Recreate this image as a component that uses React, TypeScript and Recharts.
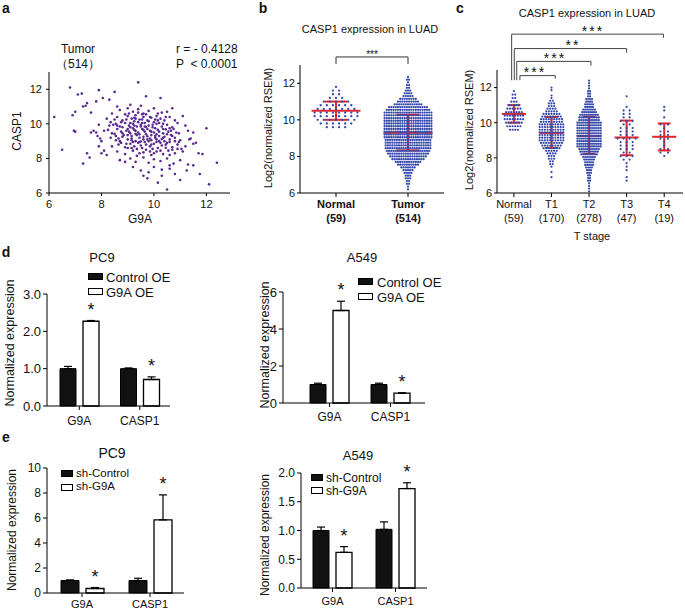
import React from "react";
import {
    ScatterChart,
    Scatter,
    XAxis,
    YAxis,
    ReferenceLine,
    BarChart,
    Bar,
    ErrorBar,
    LabelList,
} from "recharts";

const FONT = '"Liberation Sans", Arial, Helvetica, sans-serif';
const PURPLE = "#5b2a90";
const BLUE = "#3447aa";
const RED = "#e0262b";

// ---- panel a: G9A vs CASP1 in tumours ----
const corrPoints: [number, number][] = [
    [6.2, 10.4], [6.5, 8.5], [6.8, 12.1], [6.9, 10.5], [6.95, 9.6], [7.0, 9.55], [7.0, 10.7], [7.1, 11.7],
    [7.25, 11.75], [7.3, 11.0], [7.4, 11.05], [7.45, 11.2], [7.3, 7.7], [7.45, 8.3], [7.55, 8.05], [7.6, 10.65],
    [7.8, 11.3], [7.9, 11.95], [8.05, 11.5], [7.7, 9.6], [7.8, 9.5], [7.85, 9.3], [8.0, 9.0], [7.9, 8.7],
    [8.1, 8.45], [8.2, 8.2], [8.3, 11.4], [8.5, 11.85], [8.6, 11.0], [9.4, 12.4], [9.7, 11.6], [10.25, 11.5],
    [10.5, 10.7], [11.1, 10.45], [11.2, 9.9], [12.0, 9.75], [11.5, 9.5], [11.7, 8.3], [11.85, 8.25], [12.4, 7.75],
    [12.1, 6.5], [11.75, 7.1], [11.5, 7.6], [11.0, 6.75], [10.5, 6.2], [10.15, 6.6], [9.75, 6.85], [10.3, 7.0],
    [8.7, 10.8], [9.0, 10.9], [9.2, 10.7], [9.4, 10.85], [9.6, 10.6], [9.8, 10.75], [10.0, 10.9], [8.4, 10.6],
    [9.1, 11.1], [9.5, 11.05], [10.3, 10.65], [10.7, 10.9], [8.9, 10.55],
    [8.2, 10.3], [8.6, 10.4], [8.8, 10.2], [9.0, 10.45], [9.15, 10.3], [9.3, 10.5], [9.45, 10.25], [9.6, 10.4],
    [9.75, 10.2], [9.9, 10.35], [10.1, 10.45], [10.25, 10.3], [10.4, 10.2], [10.6, 10.4], [8.5, 10.25], [9.25, 10.15],
    [9.55, 10.55], [10.0, 10.1],
    [7.9, 9.95], [8.3, 9.9], [8.55, 10.0], [8.7, 9.85], [8.9, 10.05], [9.05, 9.9], [9.2, 10.0], [9.35, 9.85],
    [9.5, 9.95], [9.65, 10.05], [9.8, 9.9], [9.95, 9.8], [10.1, 10.0], [10.3, 9.85], [10.5, 9.95], [10.7, 9.8],
    [10.9, 10.05], [9.1, 9.8], [9.4, 10.1], [9.7, 9.82], [10.2, 10.05], [8.8, 9.8], [10.6, 9.75],
    [7.6, 9.5], [8.1, 9.6], [8.4, 9.45], [8.6, 9.7], [8.75, 9.55], [8.95, 9.6], [9.1, 9.45], [9.25, 9.65],
    [9.4, 9.5], [9.55, 9.7], [9.7, 9.4], [9.85, 9.6], [10.0, 9.5], [10.15, 9.65], [10.35, 9.45], [10.55, 9.55],
    [10.75, 9.7], [10.95, 9.45], [11.3, 9.6], [9.0, 9.7], [9.3, 9.42], [9.65, 9.55], [10.1, 9.4], [10.45, 9.68],
    [8.5, 9.42],
    [7.95, 9.15], [8.35, 9.2], [8.55, 9.05], [8.8, 9.25], [9.0, 9.1], [9.15, 9.3], [9.3, 9.0], [9.45, 9.2],
    [9.6, 9.1], [9.75, 9.28], [9.9, 9.05], [10.05, 9.2], [10.2, 9.0], [10.4, 9.25], [10.6, 9.1], [10.8, 9.2],
    [11.0, 9.05], [11.4, 9.15], [9.5, 8.98], [9.85, 9.15], [10.3, 9.12], [8.7, 9.0], [10.7, 9.3],
    [8.4, 8.7], [8.65, 8.8], [8.9, 8.65], [9.1, 8.85], [9.25, 8.7], [9.4, 8.9], [9.55, 8.6], [9.7, 8.8],
    [9.85, 8.7], [10.0, 8.85], [10.15, 8.6], [10.3, 8.75], [10.5, 8.9], [10.7, 8.65], [10.9, 8.8], [11.2, 8.7],
    [11.5, 8.85], [9.95, 8.55], [10.45, 8.62], [9.0, 8.6], [10.6, 8.95],
    [8.0, 8.3], [8.6, 8.4], [8.9, 8.25], [9.2, 8.45], [9.45, 8.3], [9.7, 8.5], [9.9, 8.2], [10.1, 8.4],
    [10.35, 8.25], [10.55, 8.45], [10.8, 8.3], [11.1, 8.4], [9.35, 8.15], [10.0, 8.3],
    [8.7, 7.9], [9.1, 8.0], [9.3, 7.8], [9.6, 8.05], [9.8, 7.75], [10.0, 7.95], [10.25, 7.85], [10.5, 8.0],
    [10.75, 7.7], [11.0, 7.9], [11.3, 7.65], [8.9, 7.8], [10.6, 7.6],
    [9.2, 7.5], [9.5, 7.3], [9.8, 7.2], [10.0, 7.5], [10.3, 7.35], [10.8, 7.1], [11.25, 7.3], [9.6, 7.0], [10.6, 7.4],
    [9.05, 9.55], [9.2, 9.75], [9.35, 9.35], [9.5, 9.85], [9.6, 9.25], [9.75, 9.7], [9.9, 9.35], [10.05, 9.75],
    [10.2, 9.3], [10.35, 9.7], [9.15, 9.05], [9.45, 8.95], [9.8, 9.0], [10.1, 8.95], [10.4, 9.0], [9.25, 10.35],
    [9.55, 10.25], [9.8, 10.15], [10.05, 10.25], [9.4, 10.65], [8.85, 9.35], [8.65, 9.15], [8.95, 8.85], [10.65, 9.35],
    [10.85, 9.5], [10.95, 8.95], [11.05, 8.55], [10.25, 8.45], [9.6, 8.35], [9.15, 8.6], [8.45, 9.95], [8.25, 9.65],
    [8.75, 10.1], [9.05, 10.6], [9.7, 10.55], [10.15, 10.6], [10.45, 10.4], [10.8, 10.2], [11.35, 9.1], [11.6, 8.9],
    [8.35, 10.1], [8.55, 9.3], [8.8, 9.45], [9.0, 9.35], [9.15, 9.15], [9.3, 9.6], [9.45, 9.4], [9.6, 9.65],
    [9.75, 9.1], [9.9, 9.55], [10.05, 9.3], [10.2, 9.55], [10.35, 9.2], [10.5, 9.4], [10.65, 9.6], [10.8, 9.0],
    [9.2, 8.95], [9.5, 8.75], [9.65, 8.95], [9.9, 8.8], [10.1, 9.1], [10.25, 8.9], [10.45, 8.8], [10.7, 8.5],
    [8.95, 10.25], [9.3, 10.3], [9.55, 10.05], [9.85, 10.4], [10.15, 10.2], [10.35, 10.0], [9.1, 10.05], [8.6, 9.9],
    [8.75, 8.9], [9.35, 8.55], [9.85, 8.4], [10.6, 8.2], [10.9, 8.55], [9.95, 9.95], [9.25, 9.9], [9.65, 9.85],
];

// ---- panels b / c: beeswarm rows, count of samples per expression row ----
const normalCounts = [4, 6, 7, 8, 8, 7, 6, 5, 3, 2, 2, 1];
const tumorCounts = [
    1, 1, 2, 2, 3, 3, 4, 5, 7, 10, 12, 15, 17, 19, 20, 21, 21, 21, 21, 22, 22,
    22, 22, 22, 22, 22, 22, 22, 22, 20, 18, 13, 10, 8, 5, 4, 3, 2, 2, 1, 2, 1,
];
const t1Counts = [
    1, 0, 1, 0, 1, 2, 2, 3, 3, 4, 5, 7, 8, 9, 10, 10, 10, 10,
    10, 10, 10, 9, 9, 8, 7, 5, 4, 3, 3, 2, 1, 1, 0, 1, 1,
];
const t2Counts = [
    1, 1, 1, 1, 2, 2, 2, 3, 3, 4, 5, 5, 6, 7, 9, 10, 11, 13, 13, 13, 13, 13,
    13, 13, 13, 13, 13, 11, 11, 10, 8, 7, 5, 5, 4, 4, 2, 2, 2, 1, 1, 1, 1,
];
const t3Counts = [1, 1, 0, 1, 1, 1, 2, 3, 2, 3, 3, 3, 4, 3, 3, 3, 2, 3, 2, 2, 2, 1, 0, 0, 1];
const t4Counts = [1, 2, 2, 1, 1, 2, 2, 2, 1, 2, 0, 1, 0, 1, 1];

const luadNames = ["Normal", "Tumor"];
const luadN = [59, 514];
const luadStart = [9.6, 6.2];
const luadStep = [0.2, 0.15];
const luadCounts = [normalCounts, tumorCounts];
const luadMean = [10.5, 9.3];
const luadLo = [10.0, 8.33];
const luadHi = [11.0, 10.28];

const stageNames = ["Normal", "T1", "T2", "T3", "T4"];
const stageN = [59, 170, 278, 47, 19];
const stageStart = [9.6, 6.9, 6.1, 6.7, 8.1];
const stageStep = [0.2, 0.15, 0.15, 0.2, 0.2];
const stageCounts = [normalCounts, t1Counts, t2Counts, t3Counts, t4Counts];
const stageMean = [10.5, 9.42, 9.25, 9.16, 9.2];
const stageLo = [10.0, 8.57, 8.22, 8.15, 8.42];
const stageHi = [11.0, 10.33, 10.33, 10.12, 9.96];
// significance brackets Normal -> T1..T4
const bracketTo = [1.1, 2.05, 3.0, 3.98];
const bracketFrom = [0.16, 0.075, 0.01, -0.06];
const bracketTop = [12.68, 13.49, 14.22, 15.04];
const bracketDrop = [12.51, 13.24, 13.98, 14.83];
const bracketBase = 12.42;

// ---- panels d / e: qPCR bars ----
const genes = ["G9A", "CASP1"];
const pc9OeCtrl = [1.0, 1.0];
const pc9OeCtrlErr = [0.06, 0.02];
const pc9Oe = [2.27, 0.71];
const pc9OeErr = [0.02, 0.07];
const a549OeCtrl = [1.0, 1.0];
const a549OeCtrlErr = [0.07, 0.07];
const a549Oe = [5.0, 0.53];
const a549OeErr = [0.5, 0.02];
const pc9ShCtrl = [1.0, 1.0];
const pc9ShCtrlErr = [0.05, 0.18];
const pc9Sh = [0.36, 5.85];
const pc9ShErr = [0.08, 2.0];
const a549ShCtrl = [1.0, 1.02];
const a549ShCtrlErr = [0.06, 0.13];
const a549Sh = [0.62, 1.73];
const a549ShErr = [0.1, 0.1];

function swarm(starts: number[], steps: number[], counts: number[][], dx: number[]) {
    const pts: { x: number; y: number }[] = [];
    counts.forEach((rows, g) => {
        rows.forEach((n, r) => {
            const y = +(starts[g] + r * steps[g]).toFixed(3);
            for (let j = 0; j < n; j++) pts.push({ x: g + (j - (n - 1) / 2) * dx[g], y });
        });
    });
    return pts;
}

// plot box in page pixels -> chart placement
function place(x0: number, y0: number, x1: number, y1: number, yw: number, xh: number, top = 4, right = 4) {
    return {
        style: { position: "absolute" as const, left: x0 - yw, top: y0 - top },
        width: yw + (x1 - x0) + right,
        height: top + (y1 - y0) + xh,
        margin: { top, right, left: 0, bottom: 0 },
    };
}

function Txt({ x, y, size = 11, bold = false, rot = false, anchor = "middle", spacing = 0, children }: any) {
    const tx = anchor === "middle" ? "-50%" : anchor === "end" ? "-100%" : "0";
    return (
        <div
            style={{
                position: "absolute",
                left: x,
                top: y,
                transform: `translate(${tx}, -50%)${rot ? " rotate(-90deg)" : ""}`,
                fontSize: size,
                fontWeight: bold ? 700 : 400,
                lineHeight: 1,
                whiteSpace: "nowrap",
                letterSpacing: spacing,
                color: "#111",
            }}
        >
            {children}
        </div>
    );
}

function Key({ x, y, tx, label, filled, w = 15, h = 7, size = 13 }: any) {
    return (
        <>
            <div
                style={{
                    position: "absolute",
                    left: x,
                    top: y - h / 2,
                    width: w,
                    height: h,
                    boxSizing: "border-box",
                    background: filled ? "#111" : "#fff",
                    border: "1px solid #000",
                }}
            />
            <Txt x={tx} y={y} size={size} anchor="start">{label}</Txt>
        </>
    );
}

const axisStroke = { stroke: "#000", strokeWidth: 1 };

function GroupTick(props: any) {
    const { x, y, payload, names, counts, bold } = props;
    const i = Math.round(payload.value);
    return (
        <text x={x} y={y} textAnchor="middle" fontSize={11} fontWeight={bold ? 700 : 400} fill="#111" fontFamily={FONT}>
            <tspan x={x} dy={9}>{names[i]}</tspan>
            <tspan x={x} dy={14}>({counts[i]})</tspan>
        </text>
    );
}

function statSegments(g: number, mean: number, lo: number, hi: number, mh: number, ch: number) {
    return [
        [{ x: g - mh, y: mean }, { x: g + mh, y: mean }],
        [{ x: g, y: lo }, { x: g, y: hi }],
        [{ x: g - ch, y: lo }, { x: g + ch, y: lo }],
        [{ x: g - ch, y: hi }, { x: g + ch, y: hi }],
    ];
}

const dot = (color: string, r: number) => (p: any) => <circle cx={p.cx} cy={p.cy} r={r} fill={color} />;

function ExprBars({ box, ctrl, ctrlErr, trt, trtErr, domain, ticks, dec, barSize, pad, tickFont, xFont, xMargin }: any) {
    const data = genes.map((g, i) => ({
        gene: g,
        ctrl: ctrl[i],
        ctrlErr: [0, ctrlErr[i]],
        trt: trt[i],
        trtErr: [0, trtErr[i]],
        up: trtErr[i],
    }));
    const star = (p: any) => {
        const vb = p.viewBox && p.viewBox.width !== undefined ? p.viewBox : p;
        const { x, y, width, height } = vb;
        const val = trt[p.index];
        const top = y - (p.value * height) / val;
        return (
            <text x={x + width / 2} y={top - 5} textAnchor="middle" fontSize={18} fill="#111" fontFamily={FONT}>
                *
            </text>
        );
    };
    return (
        <div style={box.style}>
            <BarChart width={box.width} height={box.height} margin={box.margin} data={data} barGap={7} barSize={barSize}>
                <XAxis
                    dataKey="gene"
                    padding={pad}
                    height={box.height - box.margin.top - (box.plotH ?? 0)}
                    axisLine={axisStroke}
                    tickLine={axisStroke}
                    tickSize={4}
                    tickMargin={xMargin}
                    interval={0}
                    tick={{ fill: "#111", fontSize: xFont, fontFamily: FONT }}
                />
                <YAxis
                    type="number"
                    domain={domain}
                    ticks={ticks}
                    width={box.yw}
                    axisLine={axisStroke}
                    tickLine={axisStroke}
                    tickSize={4}
                    tickMargin={2}
                    tickFormatter={(v: number) => v.toFixed(dec)}
                    tick={{ fill: "#111", fontSize: tickFont, fontFamily: FONT }}
                />
                <Bar dataKey="ctrl" fill="#111" stroke="#000" strokeWidth={1} isAnimationActive={false}>
                    <ErrorBar dataKey="ctrlErr" width={4} stroke="#000" strokeWidth={1.2} direction="y" />
                </Bar>
                <Bar dataKey="trt" fill="#fff" stroke="#000" strokeWidth={1.3} isAnimationActive={false}>
                    <ErrorBar dataKey="trtErr" width={4} stroke="#000" strokeWidth={1.2} direction="y" />
                    <LabelList dataKey="up" content={star} />
                </Bar>
            </BarChart>
        </div>
    );
}

function barBox(x0: number, y0: number, x1: number, y1: number, yw: number, xh: number, top: number) {
    const b: any = place(x0, y0, x1, y1, yw, xh, top, 4);
    b.yw = yw;
    b.plotH = y1 - y0;
    return b;
}

export default function App() {
    const aBox = place(49, 72, 230, 193, 30, 24, 4, 6);
    const bBox = place(300, 65, 444, 193, 28, 36, 22, 4);
    const cBox = place(497, 70, 683, 193, 28, 36, 46, 2);

    const scatterData = corrPoints.map(([x, y]) => ({ x, y }));
    const luadPts = swarm(luadStart, luadStep, luadCounts, [0.085, 0.031]);
    const stagePts = swarm(stageStart, stageStep, stageCounts, [0.07, 0.07, 0.052, 0.16, 0.2]);

    const tickStyle = { fill: "#111", fontSize: 11, fontFamily: FONT };

    return (
        <div
            style={{
                position: "absolute",
                left: 0,
                top: 0,
                width: 685,
                height: 611,
                background: "#fff",
                fontFamily: FONT,
                overflow: "hidden",
            }}
        >
            {/* a */}
            <div style={aBox.style}>
                <ScatterChart width={aBox.width} height={aBox.height} margin={aBox.margin}>
                    <XAxis
                        type="number"
                        dataKey="x"
                        domain={[6, 12.9]}
                        ticks={[6, 8, 10, 12]}
                        allowDataOverflow
                        height={24}
                        axisLine={axisStroke}
                        tickLine={axisStroke}
                        tickSize={3}
                        tickMargin={4}
                        tick={tickStyle}
                    />
                    <YAxis
                        type="number"
                        dataKey="y"
                        domain={[6, 13]}
                        ticks={[6, 8, 10, 12]}
                        allowDataOverflow
                        width={30}
                        axisLine={axisStroke}
                        tickLine={axisStroke}
                        tickSize={3}
                        tickMargin={4}
                        tick={tickStyle}
                    />
                    <Scatter data={scatterData} shape={dot(PURPLE, 1.3)} isAnimationActive={false} />
                </ScatterChart>
            </div>

            {/* b */}
            <div style={bBox.style}>
                <ScatterChart width={bBox.width} height={bBox.height} margin={bBox.margin}>
                    <XAxis
                        type="number"
                        dataKey="x"
                        domain={[-0.5, 1.5]}
                        ticks={[0, 1]}
                        allowDataOverflow
                        height={36}
                        axisLine={axisStroke}
                        tickLine={axisStroke}
                        tickSize={4}
                        tick={<GroupTick names={luadNames} counts={luadN} bold />}
                    />
                    <YAxis
                        type="number"
                        dataKey="y"
                        domain={[6, 13]}
                        ticks={[6, 8, 10, 12]}
                        allowDataOverflow
                        width={28}
                        axisLine={axisStroke}
                        tickLine={axisStroke}
                        tickSize={3}
                        tickMargin={2}
                        tick={tickStyle}
                    />
                    <Scatter data={luadPts} shape={dot(BLUE, 1.15)} isAnimationActive={false} />
                    {luadNames.map((_, g) =>
                        statSegments(g, luadMean[g], luadLo[g], luadHi[g], 0.34, 0.16).map((s, k) => (
                            <ReferenceLine key={`b${g}${k}`} segment={s} stroke={RED} strokeWidth={2} ifOverflow="visible" />
                        ))
                    )}
                    <ReferenceLine segment={[{ x: 0, y: 13.05 }, { x: 0, y: 13.44 }]} stroke="#333" ifOverflow="visible" />
                    <ReferenceLine segment={[{ x: 0, y: 13.44 }, { x: 1, y: 13.44 }]} stroke="#333" ifOverflow="visible" />
                    <ReferenceLine segment={[{ x: 1, y: 13.44 }, { x: 1, y: 13.05 }]} stroke="#333" ifOverflow="visible" />
                </ScatterChart>
            </div>

            {/* c */}
            <div style={cBox.style}>
                <ScatterChart width={cBox.width} height={cBox.height} margin={cBox.margin}>
                    <XAxis
                        type="number"
                        dataKey="x"
                        domain={[-0.45, 4.5]}
                        ticks={[0, 1, 2, 3, 4]}
                        allowDataOverflow
                        height={36}
                        axisLine={axisStroke}
                        tickLine={axisStroke}
                        tickSize={4}
                        tick={<GroupTick names={stageNames} counts={stageN} />}
                    />
                    <YAxis
                        type="number"
                        dataKey="y"
                        domain={[6, 13]}
                        ticks={[6, 8, 10, 12]}
                        allowDataOverflow
                        width={28}
                        axisLine={axisStroke}
                        tickLine={axisStroke}
                        tickSize={3}
                        tickMargin={2}
                        tick={tickStyle}
                    />
                    <Scatter data={stagePts} shape={dot(BLUE, 1.1)} isAnimationActive={false} />
                    {stageNames.map((_, g) =>
                        statSegments(g, stageMean[g], stageLo[g], stageHi[g], 0.32, 0.17).map((s, k) => (
                            <ReferenceLine key={`c${g}${k}`} segment={s} stroke={RED} strokeWidth={2} ifOverflow="visible" />
                        ))
                    )}
                    {bracketTo.map((to, i) => (
                        <React.Fragment key={`br${i}`}>
                            <ReferenceLine segment={[{ x: bracketFrom[i], y: bracketBase }, { x: bracketFrom[i], y: bracketTop[i] }]} stroke="#444" ifOverflow="visible" />
                            <ReferenceLine segment={[{ x: bracketFrom[i], y: bracketTop[i] }, { x: to, y: bracketTop[i] }]} stroke="#444" ifOverflow="visible" />
                            <ReferenceLine segment={[{ x: to, y: bracketTop[i] }, { x: to, y: bracketDrop[i] }]} stroke="#444" ifOverflow="visible" />
                        </React.Fragment>
                    ))}
                </ScatterChart>
            </div>

            {/* d */}
            <ExprBars
                box={barBox(47, 294, 170, 406, 32, 24, 10)}
                ctrl={pc9OeCtrl} ctrlErr={pc9OeCtrlErr} trt={pc9Oe} trtErr={pc9OeErr}
                domain={[0, 3]} ticks={[0, 0.5, 1, 1.5, 2, 2.5, 3]} dec={1}
                barSize={16} pad={{ left: 2, right: 0 }} tickFont={13} xFont={12} xMargin={6}
            />
            <ExprBars
                box={barBox(283, 292, 425, 403, 30, 24, 14)}
                ctrl={a549OeCtrl} ctrlErr={a549OeCtrlErr} trt={a549Oe} trtErr={a549OeErr}
                domain={[0, 6]} ticks={[0, 1, 2, 3, 4, 5, 6]} dec={0}
                barSize={16} pad={{ left: 16, right: 4 }} tickFont={13} xFont={12} xMargin={5}
            />

            {/* e */}
            <ExprBars
                box={barBox(47, 468, 184, 593, 30, 18, 8)}
                ctrl={pc9ShCtrl} ctrlErr={pc9ShCtrlErr} trt={pc9Sh} trtErr={pc9ShErr}
                domain={[0, 10]} ticks={[0, 2, 4, 6, 8, 10]} dec={0}
                barSize={18} pad={{ left: 1, right: 0 }} tickFont={12} xFont={11} xMargin={3}
            />
            <ExprBars
                box={barBox(301, 473, 427, 588, 30, 22, 14)}
                ctrl={a549ShCtrl} ctrlErr={a549ShCtrlErr} trt={a549Sh} trtErr={a549ShErr}
                domain={[0, 2]} ticks={[0, 0.5, 1, 1.5, 2]} dec={1}
                barSize={16} pad={{ left: 0, right: 0 }} tickFont={12} xFont={11} xMargin={5}
            />

            {/* panel letters */}
            <Txt x={6} y={8} size={14} bold>a</Txt>
            <Txt x={263} y={8} size={14} bold>b</Txt>
            <Txt x={460} y={8} size={14} bold>c</Txt>
            <Txt x={6} y={252} size={14} bold>d</Txt>
            <Txt x={6} y={437} size={14} bold>e</Txt>

            {/* a texts */}
            <Txt x={78} y={49} size={12}>Tumor</Txt>
            <Txt x={78} y={64} size={12}>（514）</Txt>
            <Txt x={176} y={49} size={12} anchor="start">r = - 0.4128</Txt>
            <Txt x={176} y={64} size={12} anchor="start">P &nbsp;&lt; 0.0001</Txt>
            <Txt x={17} y={131} size={12} rot>CASP1</Txt>
            <Txt x={140} y={219} size={12}>G9A</Txt>

            {/* b texts */}
            <Txt x={370} y={29} size={11}>CASP1 expression in LUAD</Txt>
            <Txt x={268} y={128} size={11} rot>Log2(normalized RSEM)</Txt>
            <Txt x={372} y={55} size={10}>***</Txt>

            {/* c texts */}
            <Txt x={587} y={13} size={11}>CASP1 expression in LUAD</Txt>
            <Txt x={469} y={130} size={11} rot>Log2(normalized RSEM)</Txt>
            <Txt x={592} y={236} size={11}>T stage</Txt>
            <Txt x={593} y={31} size={14} spacing={2}>***</Txt>
            <Txt x={573} y={45} size={14} spacing={2}>**</Txt>
            <Txt x={555} y={58} size={14} spacing={2}>***</Txt>
            <Txt x={535} y={72} size={14} spacing={2}>***</Txt>

            {/* d texts */}
            <Txt x={102} y={257} size={13}>PC9</Txt>
            <Txt x={362} y={257} size={13}>A549</Txt>
            <Txt x={10} y={343} size={12.5} rot>Normalized expression</Txt>
            <Txt x={265} y={345} size={12.5} rot>Normalized expression</Txt>
            <Key x={88} y={276.5} tx={106} label="Control OE" filled />
            <Key x={88} y={291.5} tx={106} label="G9A OE" />
            <Key x={358} y={281.5} tx={377} label="Control OE" filled />
            <Key x={358} y={296.5} tx={377} label="G9A OE" />

            {/* e texts */}
            <Txt x={112} y={453} size={14}>PC9</Txt>
            <Txt x={358} y={455} size={13}>A549</Txt>
            <Txt x={12} y={530} size={12} rot>Normalized expression</Txt>
            <Txt x={265} y={535} size={12} rot>Normalized expression</Txt>
            <Key x={61} y={473.5} tx={76} label="sh-Control" filled w={12} size={11.5} />
            <Key x={61} y={487} tx={76} label="sh-G9A" w={12} size={11.5} />
            <Key x={311} y={477.5} tx={326} label="sh-Control" filled w={12} size={12} />
            <Key x={311} y={490.5} tx={326} label="sh-G9A" w={12} size={12} />
        </div>
    );
}
